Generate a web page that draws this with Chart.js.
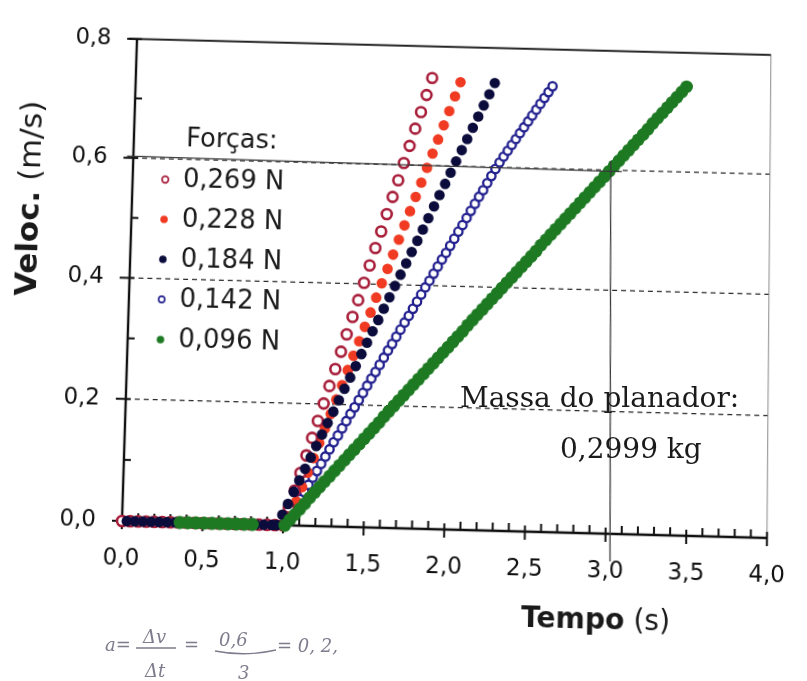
<!DOCTYPE html>
<html><head><meta charset="utf-8">
<script src="https://cdn.jsdelivr.net/npm/chart.js@4"></script>
<style>
html,body{margin:0;padding:0;background:#fff;}
#stage{position:absolute;left:0;top:0;width:807px;height:681px;overflow:hidden;background:#fff;}
#wrap{position:absolute;left:0;top:0;width:807px;height:681px;transform-origin:0 0;}
#notes{position:absolute;left:0;top:0;}
</style></head>
<body>
<div id="stage">
<div id="wrap"><canvas id="c" width="807" height="681"></canvas></div>
<svg id="notes" width="807" height="681" xmlns="http://www.w3.org/2000/svg">
  <text x="460" y="407" font-family="DejaVu Serif" font-size="28" fill="#1b1b1b">Massa do planador:</text>
  <text x="560" y="458" font-family="DejaVu Serif" font-size="28" fill="#1b1b1b">0,2999 kg</text>
  <g font-family="DejaVu Serif" font-style="italic" font-size="18" fill="#7c7c8c">
    <text x="105" y="651">a=</text>
    <text x="143" y="643">Δv</text>
    <text x="145" y="677">Δt</text>
    <text x="184" y="651">=</text>
    <text x="219" y="646">0,6</text>
    <text x="238" y="679">3</text>
    <text x="277" y="652">= 0, 2,</text>
  </g>
  <g stroke="#7c7c8c" stroke-width="1.3" fill="none">
    <line x1="136" y1="648" x2="176" y2="648"/>
    <path d="M215 651 Q245 657 276 650"/>
  </g>
</svg>
</div>
<script>
// ---------------- data ----------------
const forceLabels = ['0,269 N', '0,228 N', '0,184 N', '0,142 N', '0,096 N'];
const xTickLabels = ['0,0','0,5','1,0','1,5','2,0','2,5','3,0','3,5','4,0'];
const yTickLabels = ['0,0','0,2','0,4','0,6','0,8'];
const gridValues = [0.2, 0.4, 0.6];

const time269 = [0,0.05,0.1,0.15,0.2,0.25,0.3,0.35,0.4,0.45,0.5,0.55,0.6,0.65,0.7,0.75,0.8,0.85,0.9,0.95,
  1.000,1.033,1.067,1.100,1.134,1.167,1.200,1.234,1.267,1.301,1.334,1.367,1.401,1.434,1.468,1.501,1.534,1.568,1.601,1.635,1.668,1.701,1.735,1.768,1.802,1.835,1.868];
const vel269 = [0,0,0,0,0,0,0,0,0,0,0,0,0,0,0,0,0,0,0,0,
  0.000,0.029,0.057,0.086,0.115,0.144,0.172,0.201,0.230,0.258,0.287,0.316,0.345,0.373,0.402,0.431,0.460,0.488,0.517,0.546,0.574,0.603,0.632,0.661,0.689,0.718,0.747];

const time228 = [0.02,0.07,0.12,0.17,0.22,0.27,0.32,0.37,0.42,0.47,0.52,0.57,0.62,0.67,0.72,0.77,0.82,0.87,0.92,0.97,1.012,
  1.045,1.078,1.112,1.145,1.179,1.212,1.245,1.279,1.312,1.346,1.379,1.412,1.446,1.479,1.513,1.546,1.579,1.613,1.646,1.680,1.713,1.746,1.780,1.813,1.847,1.880,1.913,1.947,1.980,2.014,2.047];
const vel228 = [0,0,0,0,0,0,0,0,0,0,0,0,0,0,0,0,0,0,0,0,0,
  0.015,0.039,0.063,0.087,0.111,0.136,0.160,0.184,0.208,0.232,0.257,0.281,0.305,0.329,0.353,0.378,0.402,0.426,0.450,0.475,0.499,0.523,0.547,0.571,0.596,0.620,0.644,0.668,0.692,0.717,0.741];

const time184 = [0.03,0.08,0.13,0.18,0.23,0.28,0.33,0.38,0.43,0.48,0.53,0.58,0.63,0.68,0.73,0.78,0.83,0.88,0.93,0.96,
  0.994,1.027,1.061,1.094,1.128,1.161,1.194,1.228,1.261,1.295,1.328,1.361,1.395,1.428,1.462,1.495,1.528,1.562,1.595,1.629,1.662,1.695,1.729,1.762,1.796,1.829,1.862,1.896,1.929,1.963,1.996,2.029,2.063,2.096,2.130,2.163,2.196,2.230,2.263];
const vel184 = [0,0,0,0,0,0,0,0,0,0,0,0,0,0,0,0,0,0,0,0,
  0.017,0.035,0.055,0.074,0.093,0.112,0.131,0.150,0.169,0.188,0.207,0.226,0.245,0.264,0.284,0.303,0.322,0.341,0.360,0.379,0.398,0.417,0.436,0.455,0.474,0.493,0.512,0.532,0.551,0.570,0.589,0.608,0.627,0.646,0.665,0.684,0.703,0.722,0.741];

const time142 = [0.04,0.09,0.14,0.19,0.24,0.29,0.34,0.39,0.44,0.49,0.54,0.59,0.64,0.69,0.74,0.79,0.84,0.89,0.94,0.99,
  1.027,1.052,1.077,1.102,1.127,1.152,1.177,1.202,1.227,1.252,1.277,1.302,1.327,1.352,1.377,1.402,1.427,1.452,1.477,1.502,
  1.527,1.552,1.577,1.602,1.627,1.652,1.677,1.702,1.727,1.752,1.777,1.802,1.827,1.852,1.877,1.902,1.927,1.952,1.977,2.002,
  2.027,2.052,2.077,2.102,2.127,2.152,2.177,2.202,2.227,2.252,2.277,2.302,2.327,2.352,2.377,2.402,2.427,2.452,2.477,2.502,
  2.527,2.552,2.577,2.602,2.627];
const vel142 = [0,0,0,0,0,0,0,0,0,0,0,0,0,0,0,0,0,0,0,0,
  0.008,0.020,0.032,0.043,0.055,0.067,0.079,0.090,0.102,0.114,0.126,0.138,0.149,0.161,0.173,0.185,0.196,0.208,0.220,0.232,
  0.244,0.255,0.267,0.279,0.291,0.302,0.314,0.326,0.338,0.349,0.361,0.373,0.385,0.397,0.408,0.420,0.432,0.444,0.455,0.467,
  0.479,0.491,0.502,0.514,0.526,0.538,0.550,0.561,0.573,0.585,0.597,0.608,0.618,0.628,0.638,0.648,0.658,0.668,0.678,0.688,
  0.698,0.708,0.718,0.728,0.738];

const time096 = [0.36,0.41,0.46,0.51,0.56,0.61,0.66,0.71,0.76,0.81,
  1.011,1.041,1.071,1.101,1.131,1.161,1.191,1.221,1.251,1.281,1.311,1.341,1.371,1.401,1.431,1.461,1.491,1.521,1.551,1.581,
  1.611,1.641,1.671,1.701,1.731,1.761,1.791,1.821,1.851,1.881,1.911,1.941,1.971,2.001,2.031,2.061,2.091,2.121,2.151,2.181,
  2.211,2.241,2.271,2.301,2.331,2.361,2.391,2.421,2.451,2.481,2.511,2.541,2.571,2.601,2.631,2.661,2.691,2.721,2.751,2.781,
  2.811,2.841,2.871,2.901,2.931,2.961,2.991,3.021,3.051,3.081,3.111,3.141,3.171,3.201,3.231,3.261,3.291,3.321,3.351,3.381,
  3.411,3.441,3.471];
const vel096 = [0,0,0,0,0,0,0,0,0,0,
  0.000,0.009,0.018,0.027,0.036,0.046,0.055,0.064,0.073,0.082,0.091,0.100,0.109,0.118,0.127,0.136,0.145,0.154,0.163,0.172,
  0.182,0.191,0.200,0.209,0.218,0.227,0.236,0.245,0.254,0.263,0.272,0.281,0.290,0.299,0.308,0.317,0.326,0.336,0.345,0.354,
  0.363,0.372,0.381,0.390,0.399,0.408,0.417,0.426,0.435,0.444,0.453,0.462,0.472,0.481,0.490,0.499,0.508,0.517,0.526,0.535,
  0.544,0.553,0.562,0.571,0.580,0.589,0.598,0.607,0.616,0.625,0.634,0.643,0.652,0.661,0.670,0.680,0.689,0.698,0.707,0.716,
  0.725,0.734,0.743];

// student's pencil guide lines (data units)
const guideH = [[-0.04, 0.603], [3.07, 0.598]];
const guideV = [[3.00, 0.615], [3.03, -0.045]];

// ---------------- styles ----------------
const FONT = 'DejaVu Sans';
const styles = [
  {fill:'#ffffff', stroke:'#a81e3a', r:5.0, bw:2.6, lr:3.3, lbw:1.7},
  {fill:'#f03a22', stroke:'#f03a22', r:5.3, bw:0,   lr:3.8, lbw:0},
  {fill:'#0b0c3c', stroke:'#0b0c3c', r:5.3, bw:0,   lr:3.8, lbw:0},
  {fill:'#ffffff', stroke:'#22208e', r:4.2, bw:2.3, lr:3.1, lbw:1.6},
  {fill:'#1d7a22', stroke:'#1d7a22', r:6.4, bw:0,   lr:3.8, lbw:0}
];
const series = [[time269, vel269],[time228, vel228],[time184, vel184],[time142, vel142],[time096, vel096]];
const drawOrder = [2, 3, 1, 4, 0]; // lower = on top

const datasets = series.map((s, i) => ({
  label: forceLabels[i],
  data: s[0].map((t, k) => ({x: t, y: s[1][k]})),
  showLine: false,
  clip: false,
  pointRadius: styles[i].r,
  pointBorderWidth: styles[i].bw,
  pointBackgroundColor: styles[i].fill,
  pointBorderColor: styles[i].stroke,
  backgroundColor: styles[i].fill,
  borderColor: styles[i].stroke,
  order: drawOrder[i]
}));

function line(ctx, x1, y1, x2, y2){ ctx.beginPath(); ctx.moveTo(x1,y1); ctx.lineTo(x2,y2); ctx.stroke(); }

const deco = {
  id: 'deco',
  beforeDatasetsDraw(chart){
    const {ctx, scales:{x, y}} = chart;
    const x0 = x.getPixelForValue(0), x4 = x.getPixelForValue(4);
    const y0 = y.getPixelForValue(0), y8 = y.getPixelForValue(0.8);
    ctx.save();
    ctx.strokeStyle = '#2a2a2a'; ctx.lineWidth = 1.3; ctx.setLineDash([5,4]);
    gridValues.forEach(v => { const py = y.getPixelForValue(v); line(ctx, x0, py, x4, py); });
    ctx.setLineDash([]);
    ctx.strokeStyle = '#8a8a8a'; ctx.lineWidth = 1;
    line(ctx, x4, y8, x4, y0);
    ctx.strokeStyle = '#222'; ctx.lineWidth = 2;
    line(ctx, x0 - 8, y8, x4, y8);
    ctx.strokeStyle = '#111'; ctx.lineWidth = 2.4;
    line(ctx, x0, y0 + 1, x0, y8);
    line(ctx, x0 - 6, y0, x4, y0);
    ctx.lineWidth = 2;
    for (let k = 0; k <= 8; k++) {
      const py = y.getPixelForValue(k / 10);
      if (k % 2 === 0) line(ctx, x0 - 10, py, x0 + 5, py);
      else line(ctx, x0, py, x0 + 7, py);
    }
    for (let k = 0; k <= 40; k++) {
      const px = x.getPixelForValue(k / 10);
      if (k % 5 === 0) line(ctx, px, y0 - 6, px, y0 + 8);
      else line(ctx, px, y0 - 8, px, y0);
    }
    ctx.restore();
  },
  afterDatasetsDraw(chart){
    const {ctx, scales:{x, y}} = chart;
    ctx.save();
    ctx.strokeStyle = '#3a3a3a'; ctx.lineWidth = 1.3;
    line(ctx, x.getPixelForValue(guideH[0][0]), y.getPixelForValue(guideH[0][1]), x.getPixelForValue(guideH[1][0]), y.getPixelForValue(guideH[1][1]));
    line(ctx, x.getPixelForValue(guideV[0][0]), y.getPixelForValue(guideV[0][1]), x.getPixelForValue(guideV[1][0]), y.getPixelForValue(guideV[1][1]));
    ctx.restore();
  },
  afterDraw(chart){
    const ctx = chart.ctx;
    ctx.save();
    ctx.fillStyle = '#1a1a1a';
    ctx.font = '26px "' + FONT + '"';
    ctx.textBaseline = 'middle'; ctx.textAlign = 'left';
    ctx.fillText('Forças:', 175, 140);
    forceLabels.forEach((lab, i) => {
      const cy = 181 + i * 40;
      const st = styles[i];
      ctx.beginPath(); ctx.arc(155, cy, st.lr, 0, Math.PI * 2);
      ctx.fillStyle = st.fill; ctx.fill();
      if (st.lbw) { ctx.strokeStyle = st.stroke; ctx.lineWidth = st.lbw; ctx.stroke(); }
      ctx.fillStyle = '#1a1a1a';
      ctx.fillText(lab, 173, cy);
    });
    ctx.textBaseline = 'alphabetic';
    const fb = 'bold 28px "' + FONT + '"', fr = '28px "' + FONT + '"';
    ctx.font = fb; const w1 = ctx.measureText('Tempo').width;
    ctx.font = fr; const w2 = ctx.measureText(' (s)').width;
    let sx = 596 - (w1 + w2) / 2;
    ctx.font = fb; ctx.fillText('Tempo', sx, 614);
    ctx.font = fr; ctx.fillText(' (s)', sx + w1, 614);
    const gb = 'bold 31px "' + FONT + '"', gr = '31px "' + FONT + '"';
    ctx.font = gb; const u1 = ctx.measureText('Veloc.').width;
    ctx.font = gr; const u2 = ctx.measureText(' (m/s)').width;
    ctx.translate(20, 203); ctx.rotate(-Math.PI / 2);
    ctx.textBaseline = 'middle';
    let sy = -(u1 + u2) / 2;
    ctx.font = gb; ctx.fillText('Veloc.', sy, 0);
    ctx.font = gr; ctx.fillText(' (m/s)', sy + u1, 0);
    ctx.restore();
  }
};

Chart.defaults.font.family = FONT;
const chart = new Chart(document.getElementById('c'), {
  type: 'scatter',
  data: { datasets },
  options: {
    responsive: false, maintainAspectRatio: false, animation: false,
    layout: { padding: { left: 0, top: 38, right: 40, bottom: 0 } },
    plugins: { legend: { display: false }, tooltip: { enabled: false } },
    scales: {
      x: {
        type: 'linear', min: 0, max: 4,
        afterFit: s => { s.height = 160; },
        grid: { display: false, drawTicks: false },
        border: { display: false },
        ticks: { stepSize: 0.5, padding: 23, color: '#111', font: { size: 23 }, maxRotation: 0,
                 callback: (v, i) => xTickLabels[i] }
      },
      y: {
        type: 'linear', min: 0, max: 0.8,
        afterFit: s => { s.width = 122; },
        grid: { display: false, drawTicks: false },
        border: { display: false },
        ticks: { stepSize: 0.2, padding: 26, color: '#111', font: { size: 23 },
                 callback: (v, i) => yTickLabels[i] }
      }
    }
  },
  plugins: [deco]
});

// ---- match the slight perspective of the scanned page ----
function solve(A, b){
  const n = b.length;
  for (let i = 0; i < n; i++) {
    let m = i;
    for (let r = i + 1; r < n; r++) if (Math.abs(A[r][i]) > Math.abs(A[m][i])) m = r;
    [A[i], A[m]] = [A[m], A[i]]; [b[i], b[m]] = [b[m], b[i]];
    for (let r = i + 1; r < n; r++) {
      const f = A[r][i] / A[i][i];
      for (let c = i; c < n; c++) A[r][c] -= f * A[i][c];
      b[r] -= f * b[i];
    }
  }
  const out = new Array(n);
  for (let i = n - 1; i >= 0; i--) {
    let s = b[i];
    for (let c = i + 1; c < n; c++) s -= A[i][c] * out[c];
    out[i] = s / A[i][i];
  }
  return out;
}
function homography(src, dst){
  const A = [], b = [];
  for (let i = 0; i < 4; i++) {
    const [x, y] = src[i], [u, v] = dst[i];
    A.push([x, y, 1, 0, 0, 0, -x * u, -y * u]); b.push(u);
    A.push([0, 0, 0, x, y, 1, -x * v, -y * v]); b.push(v);
  }
  return solve(A, b);
}
const ca = chart.chartArea;
const h = homography(
  [[ca.left, ca.top], [ca.right, ca.top], [ca.left, ca.bottom], [ca.right, ca.bottom]],
  [[137, 39], [771, 55], [122, 521], [767, 538]]
);
document.getElementById('wrap').style.transform =
  `matrix3d(${h[0]},${h[3]},0,${h[6]},${h[1]},${h[4]},0,${h[7]},0,0,1,0,${h[2]},${h[5]},0,1)`;
</script>
</body></html>
